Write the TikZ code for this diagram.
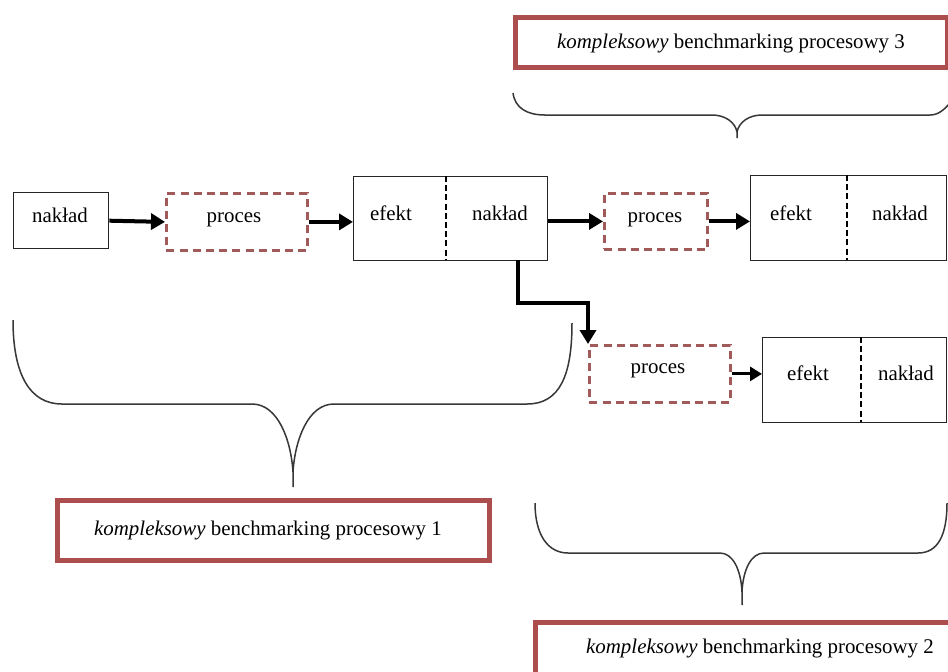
\documentclass[tikz,border=0pt]{standalone}
\usepackage{fontspec}
\setmainfont{Liberation Serif}
\usetikzlibrary{arrows.meta}
\definecolor{frame}{RGB}{172,78,78}
\definecolor{procred}{RGB}{160,90,90}
\definecolor{bracegray}{RGB}{55,55,55}

\begin{document}
\begin{tikzpicture}[x=0.5pt,y=-0.5pt,
  every node/.style={font=\fontsize{10.45}{12}\selectfont},
  box/.style={draw=black!85, line width=0.7pt, anchor=north west, inner sep=0pt},
  procbox/.style={draw=procred, line width=1.4pt, dash pattern=on 4pt off 2.6pt, anchor=north west, inner sep=0pt},
  labelbox/.style={draw=frame, line width=2.3pt, anchor=north west, inner sep=0pt},
  txt/.style={anchor=base, inner sep=0pt},
  flow/.style={line width=2pt, -{Triangle[length=7pt,width=8pt]}},
  flowthin/.style={line width=1.5pt, -{Triangle[length=6pt,width=7pt]}},
  split/.style={line width=1.1pt, dash pattern=on 3pt off 1.6pt},
  curly/.style={draw=bracegray, line width=0.75pt}
]
\useasboundingbox (0,0) rectangle (948,671);
\fill[white] (0,0) rectangle (948,671);

% input, processes and result boxes
\node[box, minimum width=47.5pt, minimum height=28pt] (n1) at (13,192) {};
\node[procbox, minimum width=70.5pt, minimum height=28.5pt] (p1) at (165,192) {};
\node[box, minimum width=97pt, minimum height=42pt] (B1) at (353,176) {};
\node[procbox, minimum width=51.5pt, minimum height=28pt] (p2) at (603,192) {};
\node[box, minimum width=98pt, minimum height=42.5pt] (B2) at (750,175) {};
\node[procbox, minimum width=70.5pt, minimum height=28.5pt] (p3) at (588,344) {};
\node[box, minimum width=92pt, minimum height=42.5pt] (B3) at (762,337) {};

% dashed splits between "efekt" and "nakład"
\draw[split] (446,176) -- (446,260);
\draw[split] (847,175) -- (847,260);
\draw[split] (861,337) -- (861,422);

% texts inside the boxes
\node[txt] (t1) at (60,222) {nakład};
\node[txt] (t2) at (234,222) {proces};
\node[txt] (t3) at (391,220) {efekt};
\node[txt] (t4) at (500,220) {nakład};
\node[txt] (t5) at (655,222) {proces};
\node[txt] (t6) at (791,220) {efekt};
\node[txt] (t7) at (900,220) {nakład};
\node[txt] (t8) at (658,373) {proces};
\node[txt] (t9) at (808,380) {efekt};
\node[txt] (t10) at (906,380) {nakład};

% connectors
\draw[flow] (n1.east) -- (p1.west);
\draw[flow] (p1.east) -- (p1.east -| B1.west);
\draw[flow] (B1.east |- p2.west) -- (p2.west);
\draw[flow] (p2.east) -- (p2.east -| B2.west);
\coordinate (drop) at (518,260);
\draw[flow] (drop) -- (518,303) -| (p3.north west);
\draw[flowthin] (p3.east) -- (p3.east -| B3.west);

% braces
\draw[curly] (13,320) .. controls (13,375) and (30,404) .. (62,404) -- (252,404)
  .. controls (278,404) and (291,440) .. (293,472) -- (293,487);
\draw[curly] (293,472) .. controls (295,440) and (308,404) .. (334,404) -- (527,404)
  .. controls (560,404) and (572,375) .. (572,323);

\draw[curly] (535,503) .. controls (535,535) and (548,553) .. (568,553) -- (720,553)
  .. controls (733,553) and (741,570) .. (742,592) -- (742,605);
\draw[curly] (742,592) .. controls (743,570) and (751,553) .. (764,553) -- (918,553)
  .. controls (938,553) and (947,535) .. (947,503);

\draw[curly] (513,93) .. controls (515,108) and (527,115) .. (545,115) -- (712,115)
  .. controls (725,115) and (735,122) .. (737,132) -- (737,138);
\draw[curly] (737,132) .. controls (739,122) and (749,115) .. (762,115) -- (930,115)
  .. controls (938,115) and (944,110) .. (950,103);

% framed labels
\node[labelbox, minimum width=216pt, minimum height=25pt] (L3) at (513,15) {};
\node[labelbox, minimum width=216pt, minimum height=30pt] (L1) at (55,498) {};
\node[labelbox, minimum width=230pt, minimum height=35pt] (L2) at (533,620) {};
\node[txt] (l3) at (731,48) {\textit{kompleksowy} benchmarking procesowy 3};
\node[txt] (l1) at (268,535) {\textit{kompleksowy} benchmarking procesowy 1};
\node[txt] (l2) at (760,653) {\textit{kompleksowy} benchmarking procesowy 2};
\end{tikzpicture}
\end{document}
